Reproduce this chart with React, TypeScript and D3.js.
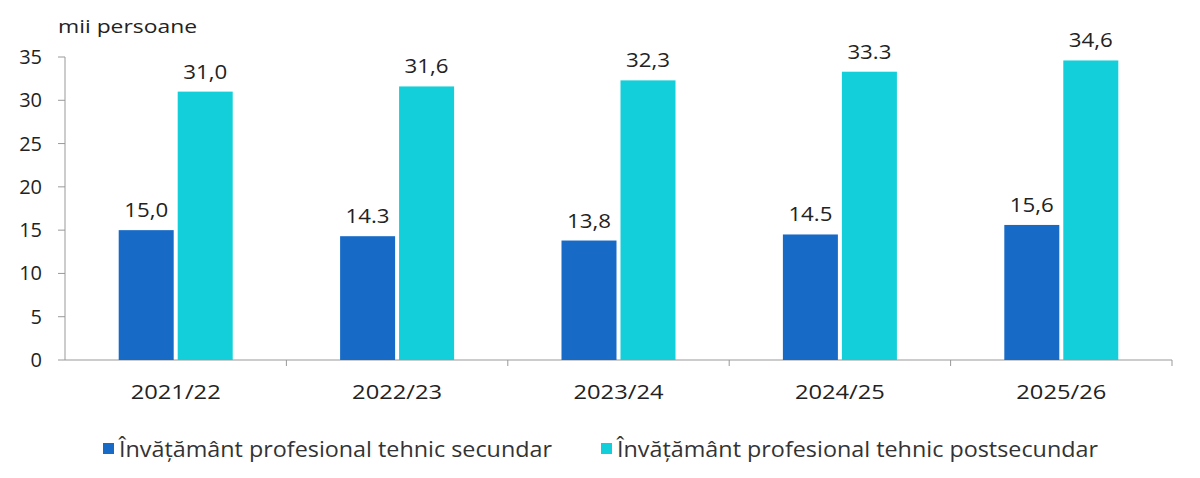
import React from "react";
import * as d3 from "d3";

const categories = ["2021/22", "2022/23", "2023/24", "2024/25", "2025/26"];
const secundar = [15.0, 14.3, 13.8, 14.5, 15.6];
const postsecundar = [31.0, 31.6, 32.3, 33.3, 34.6];
const labelsA = ["15,0", "14.3", "13,8", "14.5", "15,6"];
const labelsB = ["31,0", "31,6", "32,3", "33.3", "34,6"];
const yTicks = [0, 5, 10, 15, 20, 25, 30, 35];
const C1 = "#176bc7";
const C2 = "#12cfd9";
const font = "'Open Sans', 'Noto Sans', sans-serif";

export default function App() {
  const x0 = 65, x1 = 1172, yb = 360, yt = 57;
  const x = d3.scaleBand().domain(categories).range([x0, x1]);
  const y = d3.scaleLinear().domain([0, 35]).range([yb, yt]);
  const bw = 55, gap = 4;
  return (
    <svg width={1200} height={478} style={{ position: "absolute", left: 0, top: 0, background: "#fff" }} fontFamily={font} fill="#222">
      <text x={58} y={33} fontSize={19} textLength={139} lengthAdjust="spacingAndGlyphs">mii persoane</text>
      {yTicks.map(t => (
        <g key={t}>
          <line x1={58} x2={x0} y1={y(t)} y2={y(t)} stroke="#999" />
          <text x={42} y={y(t) + 7} fontSize={20} textAnchor="end">{t}</text>
        </g>
      ))}
      <line x1={x0} x2={x0} y1={yt} y2={yb} stroke="#999" />
      <line x1={x0} x2={x1} y1={yb} y2={yb} stroke="#999" />
      {categories.map((c, i) => {
        const cx = x(c)! + x.bandwidth() / 2;
        return (
          <g key={c}>
            <line x1={x(c)! + x.bandwidth()} x2={x(c)! + x.bandwidth()} y1={yb} y2={yb + 6} stroke="#999" />
            <rect x={cx - gap / 2 - bw} y={y(secundar[i])} width={bw} height={yb - y(secundar[i])} fill={C1} />
            <rect x={cx + gap / 2} y={y(postsecundar[i])} width={bw} height={yb - y(postsecundar[i])} fill={C2} />
            <text x={cx - gap / 2 - bw / 2} y={y(secundar[i]) - 13} fontSize={20} textAnchor="middle" textLength={44} lengthAdjust="spacingAndGlyphs">{labelsA[i]}</text>
            <text x={cx + gap / 2 + bw / 2} y={y(postsecundar[i]) - 13} fontSize={20} textAnchor="middle" textLength={44} lengthAdjust="spacingAndGlyphs">{labelsB[i]}</text>
            <text x={cx} y={399} fontSize={20} textAnchor="middle" textLength={90} lengthAdjust="spacingAndGlyphs">{c}</text>
          </g>
        );
      })}
      <rect x={103} y={443} width={11} height={11} fill={C1} />
      <text x={119} y={457} fontSize={21} fill="#333" textLength={433} lengthAdjust="spacingAndGlyphs">Învățământ profesional tehnic secundar</text>
      <rect x={601} y={443} width={11} height={11} fill={C2} />
      <text x={617} y={457} fontSize={21} fill="#333" textLength={481} lengthAdjust="spacingAndGlyphs">Învățământ profesional tehnic postsecundar</text>
    </svg>
  );
}
